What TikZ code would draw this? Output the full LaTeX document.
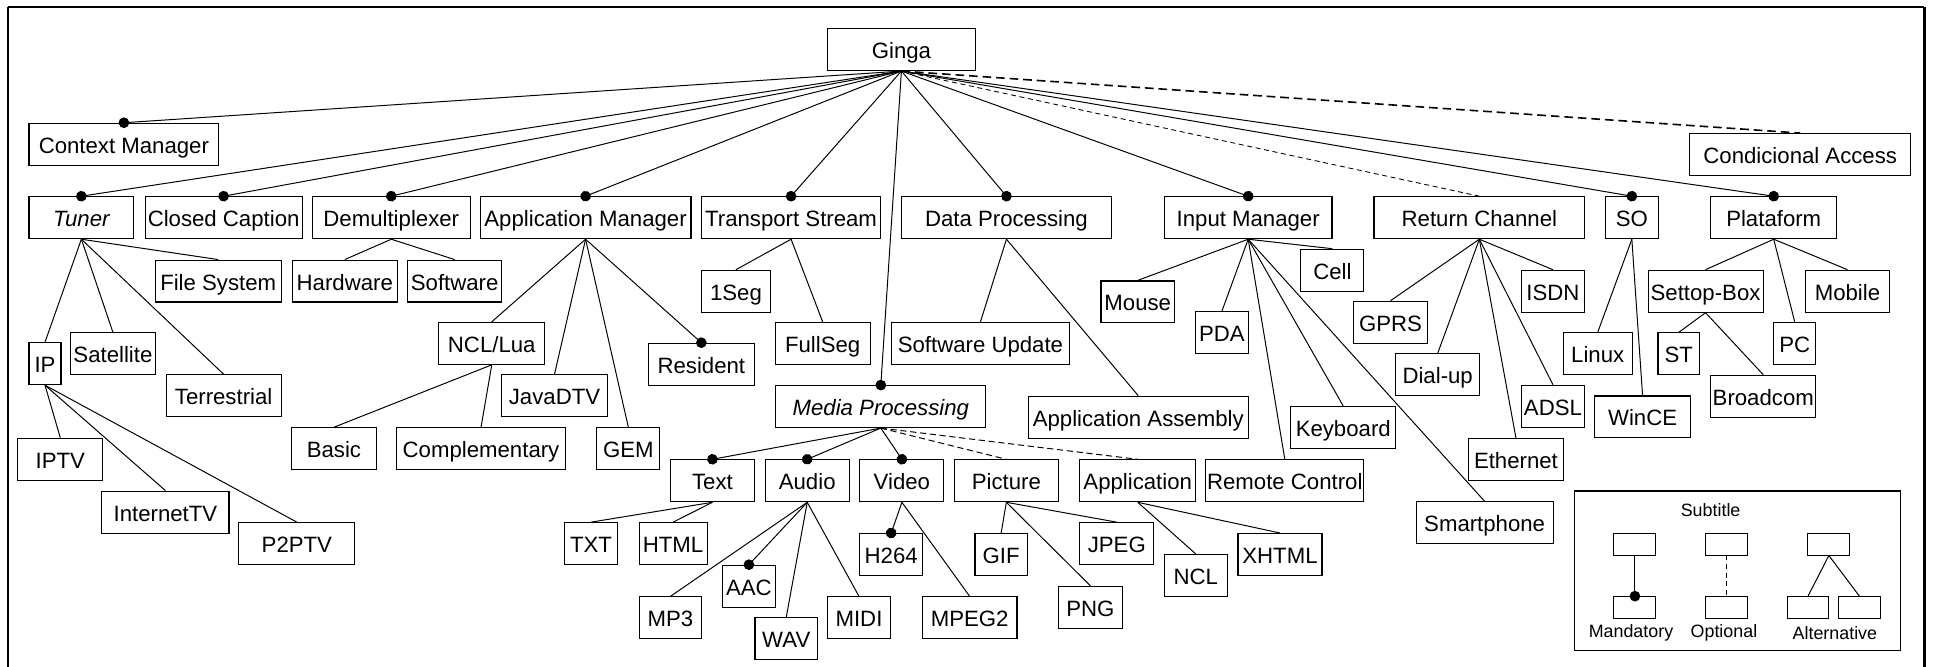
\documentclass[tikz,border=0pt]{standalone}
\usepackage{fontspec}
\setmainfont{Liberation Sans}
\usetikzlibrary{arrows.meta}
\tikzset{
  feat/.style={draw, line width=0.9pt, minimum height=34pt, inner sep=0pt,
               text height=14.6pt, text depth=0pt,
               font=\fontsize{18}{20}\selectfont},
  bw/.style={minimum width=#1pt},
  link/.style={line width=0.8pt},
  mand/.style={link, -{Circle[length=8.6pt,width=8.6pt]}, shorten >=-4.3pt},
  opt/.style={link, dash pattern=on 5pt off 3pt},
  optthin/.style={line width=0.7pt, dash pattern=on 4pt off 3pt},
  optthick/.style={line width=1.3pt, dash pattern=on 7pt off 4pt},
  legbox/.style={draw, line width=0.8pt, minimum width=34pt, minimum height=17.6pt, inner sep=0pt},
  legtxt/.style={inner sep=0pt, font=\fontsize{14.5}{16}\selectfont},
}
\begin{document}
\begin{tikzpicture}[x=1pt, y=-1pt]
\useasboundingbox (0,0) rectangle (1568,541);
% outer frame (open at the bottom)
\draw[line width=1pt] (6.5,545) -- (6.5,5.5);
\draw[line width=1.8pt] (6.5,5.5) -- (1561,5.5);
\draw[line width=2.2pt] (1561,5.5) -- (1561,545);

% root and first level
\node[feat, bw=119.5] (ginga) at (731.2,40.2) {Ginga};
\node[feat, bw=154]   (ctx)   at (100.5,117) {Context Manager};
\node[feat, bw=179.5] (cond)  at (1460.3,125.4) {Condicional Access};
\node[feat, bw=85]    (tuner) at (66,176.6) {\itshape Tuner};
\node[feat, bw=127.4] (cc)    at (181.4,176.6) {Closed Caption};
\node[feat, bw=127.8] (demux) at (317.4,176.6) {Demultiplexer};
\node[feat, bw=171]   (appm)  at (475,176.6) {Application Manager};
\node[feat, bw=145.6] (ts)    at (641.7,176.6) {Transport Stream};
\node[feat, bw=170.6] (dp)    at (816.4,176.6) {Data Processing};
\node[feat, bw=136]   (im)    at (1012.5,176.6) {Input Manager};
\node[feat, bw=171]   (rc)    at (1200,176.6) {Return Channel};
\node[feat, bw=42.6]  (so)    at (1323.7,176.6) {SO};
\node[feat, bw=102.4] (plat)  at (1438.8,176.6) {Plataform};
\node[feat, bw=170.2] (mp)    at (714.5,329.8) {\itshape Media Processing};

% tuner subtree
\node[feat, bw=102]   (fs)    at (177,228) {File System};
\node[feat, bw=26]    (ip)    at (36.5,295) {IP};
\node[feat, bw=68.8]  (sat)   at (91.6,287) {Satellite};
\node[feat, bw=93.4]  (terr)  at (181.4,321) {Terrestrial};
\node[feat, bw=68.8]  (iptv)  at (48.9,372.5) {IPTV};
\node[feat, bw=103.2] (itv)   at (134.2,415.4) {InternetTV};
\node[feat, bw=94.2]  (p2p)   at (240.8,441) {P2PTV};

% demultiplexer subtree
\node[feat, bw=85.3]  (hw)    at (279.7,228) {Hardware};
\node[feat, bw=76.4]  (sw)    at (368.8,228) {Software};

% application manager subtree
\node[feat, bw=85.8]  (ncllua) at (398.9,278.5) {NCL/Lua};
\node[feat, bw=85.5]  (java)   at (449.8,321) {JavaDTV};
\node[feat, bw=68.8]  (basic)  at (270.9,364) {Basic};
\node[feat, bw=137.3] (compl)  at (390.2,364) {Complementary};
\node[feat, bw=51.1]  (gem)    at (509.7,364) {GEM};
\node[feat, bw=85.6]  (res)    at (568.9,295.4) {Resident};

% transport stream and data processing subtrees
\node[feat, bw=56.1]  (seg)    at (597,236.2) {1Seg};
\node[feat, bw=77.1]  (full)   at (667.3,278.5) {FullSeg};
\node[feat, bw=144.9] (swupd)  at (795.3,278.5) {Software Update};
\node[feat, bw=178.5] (appasm) at (923.3,338.4) {Application Assembly};

% media processing subtree
\node[feat, bw=67.7]  (text)   at (577.9,390) {Text};
\node[feat, bw=68.1]  (audio)  at (654.8,390) {Audio};
\node[feat, bw=68.1]  (video)  at (731.6,390) {Video};
\node[feat, bw=84.7]  (pict)   at (816.3,390) {Picture};
\node[feat, bw=93.8]  (app)    at (922.9,390) {Application};
\node[feat, bw=42.8]  (txt)    at (479.4,441) {TXT};
\node[feat, bw=55.1]  (html)   at (546,441) {HTML};
\node[feat, bw=50.5]  (mp3)    at (543.8,501.2) {MP3};
\node[feat, bw=42.4]  (aac)    at (607.5,475.5) {AAC};
\node[feat, bw=50.7]  (wav)    at (637.8,518) {WAV};
\node[feat, bw=50.7]  (midi)   at (696.8,501.2) {MIDI};
\node[feat, bw=50.7]  (h264)   at (722.9,449.8) {H264};
\node[feat, bw=76.7]  (mpeg)   at (786.6,501.2) {MPEG2};
\node[feat, bw=42.4]  (gif)    at (812.1,449.8) {GIF};
\node[feat, bw=59.8]  (jpeg)   at (905.9,441) {JPEG};
\node[feat, bw=51.8]  (png)    at (884.5,492.6) {PNG};
\node[feat, bw=51.1]  (ncl)    at (970,466.8) {NCL};
\node[feat, bw=68.1]  (xhtml)  at (1038.3,449.8) {XHTML};

% input manager subtree
\node[feat, bw=59.7]  (mouse)  at (922.9,244.9) {Mouse};
\node[feat, bw=42.8]  (pda)    at (991.1,270) {PDA};
\node[feat, bw=51.1]  (cell)   at (1080.8,219.2) {Cell};
\node[feat, bw=85.1]  (keyb)   at (1089.6,346.8) {Keyboard};
\node[feat, bw=128.2] (remote) at (1042.2,390) {Remote Control};
\node[feat, bw=111]   (smart)  at (1204.3,424.1) {Smartphone};

% return channel subtree
\node[feat, bw=59.7]  (gprs)   at (1127.9,261.4) {GPRS};
\node[feat, bw=51.4]  (isdn)   at (1259.7,236.2) {ISDN};
\node[feat, bw=68.1]  (dial)   at (1166.2,304.1) {Dial-up};
\node[feat, bw=51.4]  (adsl)   at (1259.7,329.5) {ADSL};
\node[feat, bw=76.6]  (eth)    at (1229.7,372.7) {Ethernet};

% SO and platform subtrees
\node[feat, bw=56]    (linux)  at (1296,287) {Linux};
\node[feat, bw=77.6]  (wince)  at (1332.4,338.2) {WinCE};
\node[feat, bw=93.3]  (stb)    at (1383.5,236.2) {Settop-Box};
\node[feat, bw=68.1]  (mobile) at (1498.6,236.2) {Mobile};
\node[feat, bw=34.4]  (pc)     at (1455.8,278.5) {PC};
\node[feat, bw=33.8]  (st)     at (1361.8,287) {ST};
\node[feat, bw=85.4]  (bcom)   at (1430.3,321.4) {Broadcom};

% connectors from the root
\foreach \c in {ctx,tuner,cc,demux,appm,ts,dp,im,mp,so,plat}
  \draw[mand] (ginga.south) -- (\c.north);
\draw[optthin]  (ginga.south) -- (rc.north);
\draw[optthick] (ginga.south) -- (cond.north);

% tuner
\foreach \c in {fs,ip,sat,terr} \draw[link] (tuner.south) -- (\c.north);
\foreach \c in {iptv,itv,p2p} \draw[link] (ip.south) -- (\c.north);
% demultiplexer
\foreach \c in {hw,sw} \draw[link] (demux.south) -- (\c.north);
% application manager
\foreach \c in {ncllua,java,gem} \draw[link] (appm.south) -- (\c.north);
\draw[mand] (appm.south) -- (res.north);
\foreach \c in {basic,compl} \draw[link] (ncllua.south) -- (\c.north);
% transport stream, data processing
\foreach \c in {seg,full} \draw[link] (ts.south) -- (\c.north);
\foreach \c in {swupd,appasm} \draw[link] (dp.south) -- (\c.north);
% media processing
\foreach \c in {text,audio,video} \draw[mand] (mp.south) -- (\c.north);
\foreach \c in {pict,app} \draw[opt] (mp.south) -- (\c.north);
\foreach \c in {txt,html} \draw[link] (text.south) -- (\c.north);
\foreach \c in {mp3,wav,midi} \draw[link] (audio.south) -- (\c.north);
\draw[mand] (audio.south) -- (aac.north);
\draw[mand] (video.south) -- (h264.north);
\draw[link] (video.south) -- (mpeg.north);
\foreach \c in {gif,png,jpeg} \draw[link] (pict.south) -- (\c.north);
\foreach \c in {ncl,xhtml} \draw[link] (app.south) -- (\c.north);
% input manager
\foreach \c in {mouse,pda,cell,keyb,remote,smart} \draw[link] (im.south) -- (\c.north);
% return channel
\foreach \c in {gprs,dial,eth,adsl,isdn} \draw[link] (rc.south) -- (\c.north);
% SO, platform
\foreach \c in {linux,wince} \draw[link] (so.south) -- (\c.north);
\foreach \c in {stb,pc,mobile} \draw[link] (plat.south) -- (\c.north);
\foreach \c in {st,bcom} \draw[link] (stb.south) -- (\c.north);

% legend
\node[draw, line width=0.9pt, minimum width=264.2pt, minimum height=129pt, inner sep=0pt] (legend) at (1409.3,462.8) {};
\node[legtxt] (legtitle) at (1387.6,413.7) {Subtitle};
\node[legbox] (m1) at (1326.2,441.4) {};
\node[legbox] (m2) at (1326.2,492.8) {};
\node[legbox] (o1) at (1400.8,441.4) {};
\node[legbox] (o2) at (1400.8,492.8) {};
\node[legbox] (a1) at (1483.5,441.4) {};
\node[legbox] (a2) at (1466.6,492.8) {};
\node[legbox] (a3) at (1508.3,492.8) {};
\draw[mand] (m1.south) -- (m2.north);
\draw[line width=0.7pt, dash pattern=on 4pt off 3pt] (o1.south) -- (o2.north);
\draw[link] (a1.south) -- (a2.north);
\draw[link] (a1.south) -- (a3.north);
\node[legtxt] (lm) at (1323,513.7) {Mandatory};
\node[legtxt] (lo) at (1398.4,513.7) {Optional};
\node[legtxt] (la) at (1488.4,513.7) {Alternative};
\end{tikzpicture}
\end{document}
